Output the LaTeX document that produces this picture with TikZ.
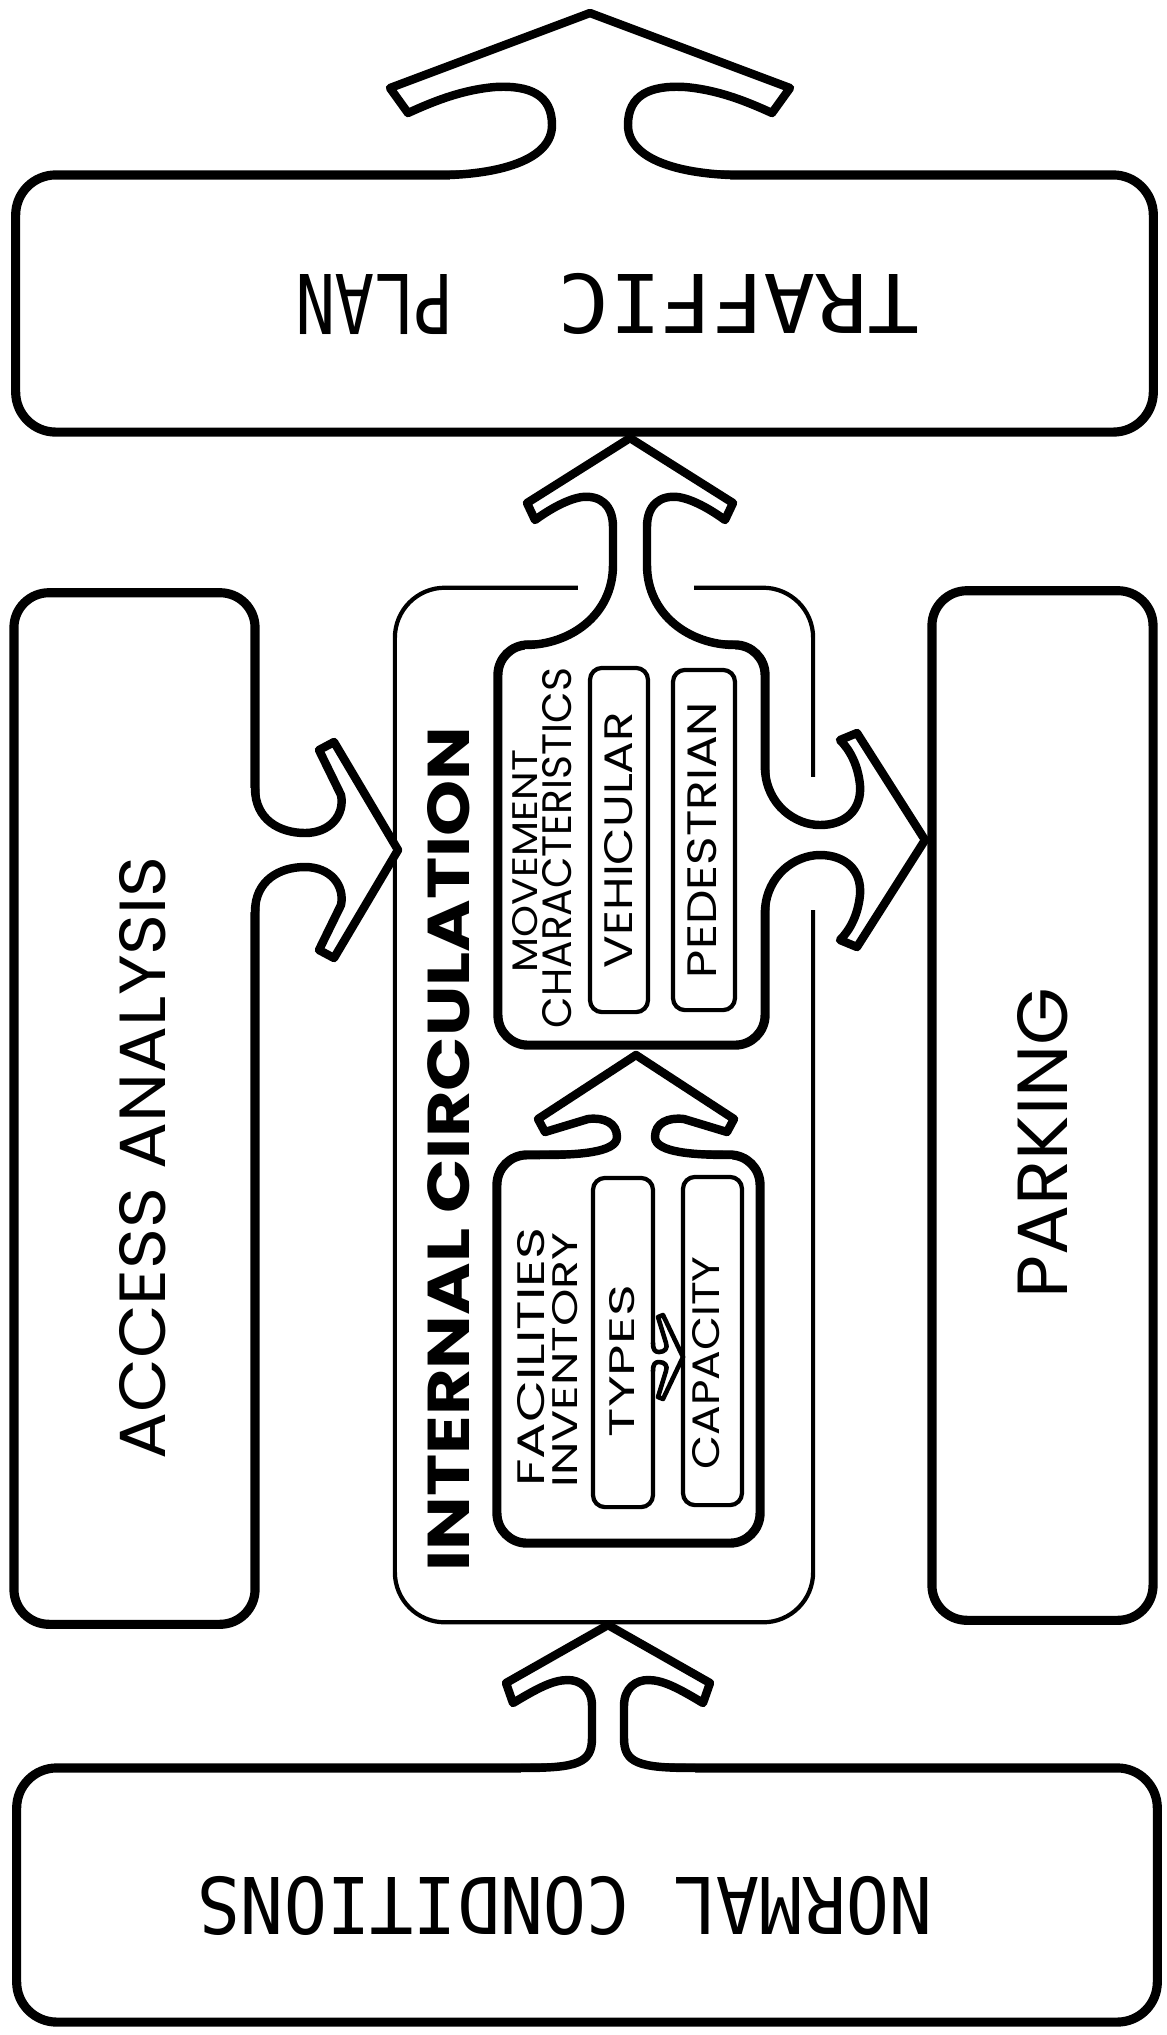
\documentclass[tikz,border=0pt]{standalone}
\usepackage{fontspec}
\usepackage{graphicx}
\newfontfamily\hand{Poppins}
\newfontfamily\lettering{DejaVu Sans Mono}

% fit a label to its measured extent (mm)
\newcommand\sized[3]{\resizebox{#1mm}{#2mm}{#3}}

% hand-drawn block arrow: base point, angle, half-width at base, left half of outline
\newcommand\mush[5][arrowline]{%
  \begin{scope}[shift={#2}, rotate=#3, y=0.01cm]
    \foreach \s in {1,-1}{
      \fill[white, xscale=\s] (-#4,-8) -- (-#4,0) #5 -- (1,-8) -- cycle;
      \draw[#1, xscale=\s] (-#4,0) #5;
    }
  \end{scope}}

\begin{document}
\begin{tikzpicture}[x=0.01cm, y=-0.01cm,
  box/.style={draw, line width=2.6pt, rounded corners=0.35cm, inner sep=0pt},
  thinbox/.style={draw, line width=1.2pt, rounded corners=0.12cm, inner sep=0pt},
  arrowline/.style={line width=2.4pt, line join=round, line cap=round},
  smallline/.style={line width=1.3pt, line join=round, line cap=round},
  txt/.style={inner sep=0pt, font=\hand},
  ]
  \useasboundingbox (0,0) rectangle (1167,2035);

  % outer blocks
  \node[box, rounded corners=0.4cm, minimum width=11.37cm, minimum height=2.57cm] (plan) at (584.5,303.5) {};
  \node[box, rounded corners=0.4cm, minimum width=11.40cm, minimum height=2.54cm] (normal) at (587,1895) {};
  \node[box, minimum width=2.41cm, minimum height=10.31cm] (access) at (134.5,1108.5) {};
  \node[box, minimum width=2.21cm, minimum height=10.29cm] (parking) at (1042.5,1105.5) {};
  \node[thinbox, rounded corners=0.5cm, minimum width=4.18cm, minimum height=10.34cm] (intcirc) at (604,1105) {};
  \fill[white] (578,582) rectangle (694,594);
  \fill[white] (807,777) rectangle (819,910);

  % inner blocks
  \node[box, rounded corners=0.3cm, minimum width=2.67cm, minimum height=4.00cm] (movement) at (631.5,845) {};
  \node[box, rounded corners=0.3cm, minimum width=2.63cm, minimum height=3.88cm] (facilities) at (628.5,1349) {};
  \node[thinbox, minimum width=0.58cm, minimum height=3.44cm] (vehicular) at (619,840) {};
  \node[thinbox, minimum width=0.62cm, minimum height=3.40cm] (pedestrian) at (704,840) {};
  \node[thinbox, minimum width=0.60cm, minimum height=3.29cm] (types) at (623,1342.5) {};
  \node[thinbox, minimum width=0.59cm, minimum height=3.28cm] (capacity) at (712.5,1341) {};

  % arrows
  \mush{(590,175)}{0}{140}{.. controls (-90,2) and (-38,15) .. (-38,50)
    .. controls (-38,80) and (-60,90) .. (-95,88) .. controls (-130,85) and (-160,72) .. (-182,62)
    -- (-200,87) -- (0,162)}
  \mush{(630,645)}{0}{105}{.. controls (-60,0) and (-17,30) .. (-17,80) -- (-17,118)
    .. controls (-17,140) and (-30,150) .. (-48,148) .. controls (-62,146) and (-80,136) .. (-95,125)
    -- (-103,142) -- (0,207)}
  \mush{(636,1155)}{0}{96}{.. controls (-60,0) and (-19,2) .. (-19,18)
    .. controls (-19,32) and (-32,38) .. (-48,36) -- (-91,23) -- (-98,36) -- (0,100)}
  \mush{(608,1768)}{0}{87}{.. controls (-30,0) and (-16,5) .. (-16,30) -- (-16,62)
    .. controls (-16,80) and (-28,88) .. (-40,88) .. controls (-55,88) and (-70,80) .. (-95,65)
    -- (-102,85) -- (0,143)}
  \mush{(255,850)}{-90}{62}{.. controls (-30,0) and (-17,25) .. (-17,50)
    .. controls (-17,75) and (-35,90) .. (-55,86) -- (-100,64) -- (-108,79) -- (0,143)}
  \mush{(765,840)}{-90}{70}{.. controls (-35,2) and (-15,30) .. (-15,55)
    .. controls (-15,80) and (-30,97) .. (-55,95) .. controls (-75,93) and (-90,85) .. (-100,75)
    -- (-107,92) -- (0,160)}
  \mush[smallline]{(653,1357)}{-90}{14}{.. controls (-7,0) and (-5,2) .. (-5,6)
    .. controls (-5,12) and (-9,15) .. (-14,13) -- (-40,5) -- (-42,10) -- (0,30)}

  % labels
  \node[txt, rotate=180, font=\lettering] (plantext) at (607.5,304)
    {\sized{36.1}{6.0}{TRAFFIC}\hspace{10.4mm}\sized{15.8}{6.0}{PLAN}};
  \node[txt, rotate=180, font=\lettering] (normaltext) at (565,1906) {\sized{73.5}{5.8}{NORMAL CONDITIONS}};
  \node[txt, rotate=90] (accesstext) at (143,1158) {\sized{60.3}{4.6}{ACCESS ANALYSIS}};
  \node[txt, rotate=90] (parkingtext) at (1043,1143) {\sized{31.1}{5.0}{PARKING}};
  \node[txt, rotate=90, font=\hand\bfseries] (intcirctext) at (449,1149) {\sized{84.4}{4.2}{INTERNAL CIRCULATION}};
  \node[txt, rotate=90] (movetext) at (525,861) {\sized{22.2}{2.5}{MOVEMENT}};
  \node[txt, rotate=90] (chartext) at (557,848) {\sized{36.0}{2.9}{CHARACTERISTICS}};
  \node[txt, rotate=90] (vehtext) at (619,840) {\sized{25.6}{2.8}{VEHICULAR}};
  \node[txt, rotate=90] (pedtext) at (702,840) {\sized{27.6}{2.9}{PEDESTRIAN}};
  \node[txt, rotate=90] (factext) at (531,1357) {\sized{25.9}{2.7}{FACILITIES}};
  \node[txt, rotate=90] (invtext) at (565,1360) {\sized{25.5}{2.5}{INVENTORY}};
  \node[txt, rotate=90] (typestext) at (622,1361) {\sized{15.2}{2.5}{TYPES}};
  \node[txt, rotate=90] (captext) at (706,1363) {\sized{21.3}{2.7}{CAPACITY}};
\end{tikzpicture}
\end{document}
